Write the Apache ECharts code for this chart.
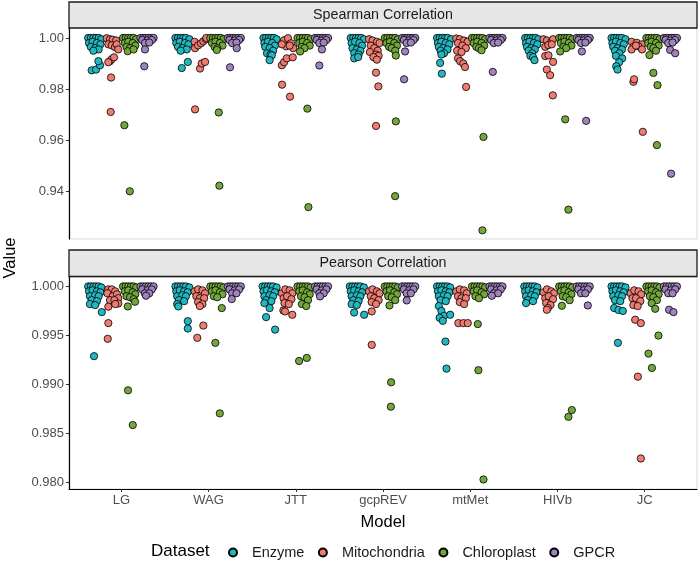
<!DOCTYPE html>
<html>
<head>
<meta charset="utf-8">
<script src="https://cdn.jsdelivr.net/npm/echarts@6/dist/echarts.min.js"></script>
<style>html,body{margin:0;padding:0;background:#fff}#c{width:698px;height:563px}</style>
</head>
<body>
<div id="c"></div>
<script>
const models = ['LG','WAG','JTT','gcpREV','mtMet','HIVb','JC'];
const datasets = ['Enzyme','Mitochondria','Chloroplast','GPCR'];
const spearmanTicks = [0.94,0.96,0.98,1.00];
const pearsonTicks = [0.980,0.985,0.990,0.995,1.000];

// Each model: list of [jitter within dataset group, value]
const spearmanEnzyme = [
 [[-0.08,1],[-0.05,1],[-0.02,1],[0.01,1],[0.04,1],[0.07,0.9995],[-0.07,0.998],[-0.03,0.9985],[0.02,0.998],[0.06,0.9975],[-0.05,0.9965],[0.0,0.996],[0.04,0.9955],[-0.02,0.995],[-0.04,0.9873],[0.01,0.9876],[0.056,0.9893],[0.037,0.9909]],
 [[-0.08,1],[-0.05,1],[-0.02,1],[0.01,1],[0.04,1],[0.08,0.9995],[-0.07,0.998],[-0.03,0.9985],[0.03,0.998],[0.07,0.9975],[-0.05,0.9965],[0.0,0.996],[0.05,0.9955],[-0.02,0.995],[-0.007,0.9882],[0.062,0.9906]],
 [[-0.07,1],[-0.04,1],[-0.01,1],[0.02,1],[0.05,1],[0.08,0.9995],[-0.06,0.998],[-0.02,0.9985],[0.03,0.998],[0.06,0.997],[-0.05,0.9965],[0.0,0.996],[0.04,0.995],[-0.03,0.994],[0.01,0.9935],[0.025,0.9932],[0.0,0.9913]],
 [[-0.07,1],[-0.04,1],[-0.01,1],[0.02,1],[0.05,1],[0.08,0.9995],[-0.06,0.998],[-0.02,0.9985],[0.03,0.998],[0.06,0.997],[-0.05,0.996],[0.0,0.9955],[0.04,0.995],[-0.03,0.994],[0.02,0.9935],[-0.03,0.992],[0.015,0.9925]],
 [[-0.08,1],[-0.05,1],[-0.02,1],[0.01,1],[0.04,1],[0.08,0.9995],[-0.07,0.998],[-0.03,0.9985],[0.02,0.998],[0.06,0.9975],[-0.06,0.9965],[-0.01,0.996],[0.04,0.9955],[-0.04,0.995],[0.0,0.994],[-0.03,0.9935],[-0.045,0.9902],[-0.025,0.986]],
 [[-0.07,1],[-0.04,1],[-0.01,1],[0.02,1],[0.05,1],[0.08,0.9995],[-0.06,0.998],[-0.02,0.9985],[0.03,0.998],[0.07,0.9975],[-0.05,0.9965],[0.0,0.996],[0.04,0.9955],[-0.03,0.995],[0.01,0.994],[-0.01,0.993],[0.02,0.9925],[0.037,0.9913]],
 [[-0.08,1],[-0.05,1],[-0.02,1],[0.01,1],[0.04,1],[0.08,0.9995],[-0.07,0.998],[-0.03,0.9985],[0.02,0.998],[0.06,0.9975],[-0.06,0.9965],[-0.01,0.996],[0.04,0.9955],[-0.04,0.995],[0.01,0.994],[-0.03,0.993],[0.042,0.992],[0.008,0.9905],[-0.026,0.9889],[-0.011,0.9876]]
];
const spearmanMito = [
 [[-0.068,0.9999],[-0.03,0.9995],[0.0,0.9993],[0.04,0.999],[-0.049,0.9975],[-0.01,0.9971],[0.028,0.9964],[0.047,0.9975],[0.065,0.9955],[-0.03,0.9909],[-0.01,0.9917],[-0.049,0.9905],[0.016,0.9924],[-0.018,0.9845],[-0.022,0.971]],
 [[-0.06,0.9985],[-0.055,0.996],[-0.02,0.9971],[0.014,0.9979],[0.04,0.9987],[0.07,0.9995],[0.075,1],[0.002,0.988],[0.022,0.99],[0.06,0.9906],[-0.055,0.972]],
 [[-0.034,0.9991],[0.011,0.9999],[0.046,0.9979],[-0.011,0.9967],[0.07,0.996],[-0.06,0.9975],[0.03,0.997],[-0.06,0.9893],[-0.034,0.9905],[-0.003,0.992],[0.065,0.9924],[-0.057,0.9817],[0.034,0.977]],
 [[-0.06,0.9995],[-0.02,0.999],[0.03,0.9985],[0.06,0.998],[-0.04,0.997],[0.0,0.996],[0.04,0.995],[-0.05,0.9945],[0.02,0.9935],[0.05,0.993],[-0.01,0.9925],[0.03,0.9915],[0.02,0.9864],[0.047,0.981],[0.02,0.9655]],
 [[-0.06,0.9998],[-0.02,0.9995],[0.03,0.999],[0.07,0.9985],[-0.04,0.998],[0.01,0.997],[0.05,0.996],[-0.05,0.995],[0.0,0.9945],[-0.04,0.992],[-0.016,0.9909],[0.02,0.99],[0.04,0.9886],[0.053,0.9808]],
 [[-0.06,0.9995],[-0.02,0.999],[0.03,0.9985],[0.05,0.9995],[-0.04,0.9965],[-0.005,0.9972],[0.035,0.9975],[-0.04,0.9929],[-0.003,0.9932],[0.05,0.9906],[-0.022,0.9876],[0.016,0.9854],[0.047,0.9775]],
 [[-0.05,0.9985],[0.01,0.9981],[0.07,0.9975],[-0.03,0.9965],[0.03,0.9967],[0.07,0.9955],[-0.05,0.9955],[0.0,0.997],[-0.029,0.9828],[-0.021,0.9838],[0.079,0.9632]]
];
const spearmanChloro = [
 [[-0.08,1],[-0.05,1],[-0.02,1],[0.01,1],[0.04,1],[0.07,0.9995],[-0.06,0.998],[-0.02,0.9985],[0.03,0.998],[0.06,0.997],[-0.04,0.9965],[0.0,0.996],[-0.026,0.9948],[0.04,0.9955],[-0.065,0.9658],[-0.003,0.9399]],
 [[-0.08,1],[-0.05,1],[-0.02,1],[0.01,1],[0.04,1],[0.07,0.9995],[-0.06,0.998],[-0.02,0.9985],[0.03,0.998],[0.06,0.997],[-0.03,0.9965],[0.0,0.996],[-0.005,0.9953],[0.017,0.9708],[0.024,0.9421]],
 [[-0.08,1],[-0.05,1],[-0.02,1],[0.01,1],[0.04,1],[0.07,0.9995],[-0.06,0.998],[-0.02,0.9985],[0.03,0.998],[0.06,0.997],[-0.03,0.9965],[0.0,0.996],[-0.05,0.9947],[0.033,0.9723],[0.045,0.9337]],
 [[-0.08,1],[-0.05,1],[-0.02,1],[0.01,1],[0.04,1],[0.07,0.9995],[-0.06,0.998],[-0.02,0.9985],[0.03,0.998],[0.06,0.997],[-0.03,0.9965],[0.0,0.996],[0.04,0.995],[0.047,0.9931],[0.047,0.9673],[0.039,0.938]],
 [[-0.08,1],[-0.05,1],[-0.02,1],[0.01,1],[0.04,1],[0.07,0.9995],[-0.06,0.998],[-0.02,0.9985],[0.03,0.998],[0.06,0.997],[-0.03,0.9965],[0.0,0.996],[0.03,0.9952],[0.052,0.9612],[0.04,0.9246]],
 [[-0.08,1],[-0.05,1],[-0.02,1],[0.01,1],[0.04,1],[0.07,0.9995],[-0.06,0.998],[-0.02,0.9985],[0.03,0.998],[0.06,0.997],[-0.03,0.9965],[0.0,0.996],[-0.069,0.9947],[-0.011,0.9681],[0.026,0.9327]],
 [[-0.08,1],[-0.05,1],[-0.02,1],[0.01,1],[0.04,1],[0.07,0.9995],[-0.06,0.998],[-0.02,0.9985],[0.03,0.998],[0.06,0.997],[-0.03,0.9965],[0.0,0.996],[0.03,0.995],[-0.045,0.9933],[0.0,0.9863],[0.047,0.9815],[0.04,0.958]]
];
const spearmanGPCR = [
 [[-0.08,1],[-0.05,1],[-0.02,1],[0.01,1],[0.04,1],[0.07,1],[-0.06,0.9992],[0.0,0.999],[0.05,0.9992],[-0.03,0.998],[0.02,0.9982],[-0.029,0.9955],[-0.037,0.9889]],
 [[-0.08,1],[-0.05,1],[-0.02,1],[0.01,1],[0.04,1],[0.07,1],[-0.06,0.9992],[0.0,0.999],[0.05,0.9992],[-0.03,0.998],[0.02,0.9982],[0.023,0.996],[-0.054,0.9885]],
 [[-0.08,1],[-0.05,1],[-0.02,1],[0.01,1],[0.04,1],[0.07,1],[-0.06,0.9992],[0.0,0.999],[0.05,0.9992],[-0.03,0.998],[0.02,0.9982],[0.0,0.9955],[-0.03,0.9892]],
 [[-0.08,1],[-0.05,1],[-0.02,1],[0.01,1],[0.04,1],[0.07,1],[-0.06,0.9992],[0.0,0.999],[0.05,0.9992],[-0.03,0.998],[0.02,0.9982],[-0.047,0.9947],[-0.058,0.9838]],
 [[-0.08,1],[-0.05,1],[-0.02,1],[0.01,1],[0.04,1],[0.07,1],[-0.06,0.9992],[0.0,0.999],[0.05,0.9992],[-0.03,0.998],[0.02,0.9982],[-0.041,0.9867]],
 [[-0.08,1],[-0.05,1],[-0.02,1],[0.01,1],[0.04,1],[0.07,1],[-0.06,0.9992],[0.0,0.999],[0.05,0.9992],[-0.03,0.998],[0.02,0.9982],[-0.02,0.9947],[0.029,0.9675]],
 [[-0.08,1],[-0.05,1],[-0.02,1],[0.01,1],[0.04,1],[0.07,1],[-0.06,0.9992],[0.0,0.999],[0.05,0.9992],[-0.03,0.998],[0.02,0.9982],[-0.008,0.9953],[0.05,0.994],[0.003,0.9468]]
];

const pearsonEnzyme = [
 [[-0.08,1],[-0.05,1],[-0.02,1],[0.01,1],[0.04,1],[0.07,0.9999],[-0.07,0.9995],[-0.03,0.9996],[0.02,0.9995],[0.06,0.9994],[-0.06,0.999],[0.0,0.9991],[0.04,0.999],[-0.04,0.9986],[0.02,0.9985],[-0.06,0.9982],[0.0,0.9981],[0.076,0.99738],[-0.013,0.99289]],
 [[-0.08,1],[-0.05,1],[-0.02,1],[0.01,1],[0.04,1],[0.08,0.9999],[-0.07,0.9995],[-0.03,0.9996],[0.02,0.9995],[0.06,0.9994],[-0.06,0.999],[0.0,0.9991],[0.04,0.999],[-0.04,0.9986],[0.02,0.9985],[-0.06,0.9982],[-0.046,0.99796],[0.062,0.99646],[0.062,0.99571]],
 [[-0.08,1],[-0.05,1],[-0.02,1],[0.01,1],[0.04,1],[0.08,0.9999],[-0.07,0.9995],[-0.03,0.9996],[0.02,0.9995],[0.06,0.9994],[-0.06,0.999],[0.0,0.9991],[0.04,0.999],[-0.04,0.9986],[0.02,0.9985],[-0.06,0.9983],[0.0,0.99779],[-0.04,0.99687],[0.063,0.9956]],
 [[-0.08,1],[-0.05,1],[-0.02,1],[0.01,1],[0.04,1],[0.08,0.9999],[-0.07,0.9995],[-0.03,0.9996],[0.02,0.9995],[0.06,0.9994],[-0.06,0.999],[0.0,0.9991],[0.04,0.999],[-0.04,0.9986],[0.02,0.9985],[-0.06,0.9982],[0.0,0.9981],[-0.031,0.99734],[0.084,0.99711]],
 [[-0.08,1],[-0.05,1],[-0.02,1],[0.01,1],[0.04,1],[0.07,0.9999],[-0.07,0.9995],[-0.03,0.9996],[0.02,0.9995],[0.06,0.9994],[-0.06,0.999],[0.0,0.9991],[0.04,0.999],[-0.04,0.9986],[0.02,0.9985],[-0.06,0.998],[-0.03,0.9975],[0.0,0.997],[-0.05,0.9968],[-0.014,0.99649],[0.07,0.99711],[0.016,0.99438],[0.028,0.99162]],
 [[-0.08,1],[-0.05,1],[-0.02,1],[0.01,1],[0.04,1],[0.07,0.9999],[-0.07,0.9995],[-0.03,0.9996],[0.02,0.9995],[0.06,0.9994],[-0.06,0.999],[0.0,0.9991],[0.04,0.999],[-0.04,0.9986],[0.02,0.9985],[-0.06,0.9983]],
 [[-0.08,1],[-0.05,1],[-0.02,1],[0.01,1],[0.04,1],[0.08,0.9999],[-0.07,0.9995],[-0.03,0.9996],[0.02,0.9995],[0.06,0.9994],[-0.06,0.999],[0.0,0.9991],[0.04,0.999],[-0.04,0.9986],[0.02,0.9985],[-0.05,0.9978],[0.0,0.9976],[0.05,0.9975],[-0.007,0.99425]]
];
const pearsonMito = [
 [[-0.05,0.9997],[-0.01,0.9997],[0.03,0.9995],[-0.06,0.9993],[0.0,0.999],[0.05,0.9992],[0.065,0.9988],[-0.03,0.9986],[0.02,0.9986],[-0.049,0.99793],[0.065,0.99826],[0.03,0.9982],[-0.049,0.99626],[-0.056,0.99466]],
 [[-0.06,0.9995],[-0.02,0.9997],[0.03,0.9996],[0.06,0.9993],[-0.04,0.999],[0.0,0.9988],[0.05,0.9988],[-0.02,0.9984],[0.03,0.9982],[0.0,0.998],[0.04,0.99601],[-0.029,0.99476]],
 [[-0.06,0.9993],[-0.02,0.9997],[0.03,0.9996],[0.06,0.9993],[-0.04,0.9988],[0.0,0.999],[0.05,0.9987],[-0.03,0.9983],[0.02,0.9982],[-0.042,0.99755],[-0.023,0.99745],[0.06,0.99711]],
 [[-0.06,0.9995],[-0.02,0.9997],[0.03,0.9995],[0.06,0.9993],[-0.04,0.999],[0.0,0.9988],[0.05,0.9986],[-0.03,0.9984],[0.02,0.9982],[-0.029,0.99745],[-0.029,0.99404]],
 [[-0.06,0.9995],[-0.02,0.9997],[0.03,0.9996],[0.06,0.9993],[-0.04,0.999],[0.0,0.9988],[0.05,0.9988],[-0.02,0.9984],[0.03,0.9982],[-0.036,0.99626],[0.022,0.99626],[0.072,0.99626]],
 [[-0.06,0.9994],[-0.02,0.9997],[0.03,0.9995],[0.06,0.9993],[-0.04,0.9988],[0.0,0.999],[0.05,0.9987],[-0.03,0.9983],[0.02,0.9981],[-0.01,0.9978],[-0.022,0.99762]],
 [[-0.06,0.9993],[-0.02,0.9996],[0.03,0.9995],[0.06,0.9992],[-0.04,0.9988],[0.0,0.9988],[0.05,0.9985],[-0.03,0.9981],[0.02,0.998],[-0.009,0.9966],[0.056,0.99626],[0.022,0.9908],[0.056,0.98246]]
];
const pearsonChloro = [
 [[-0.08,1],[-0.05,1],[-0.02,1],[0.01,1],[0.04,1],[0.07,0.9999],[-0.06,0.9995],[-0.02,0.9996],[0.03,0.9994],[0.06,0.9992],[-0.04,0.999],[0.0,0.9989],[0.04,0.9987],[-0.026,0.99796],[0.057,0.99844],[-0.023,0.98941],[0.031,0.98587]],
 [[-0.08,1],[-0.05,1],[-0.02,1],[0.01,1],[0.04,1],[0.07,0.9999],[-0.06,0.9995],[-0.02,0.9996],[0.03,0.9994],[0.06,0.9992],[-0.04,0.999],[0.0,0.9989],[0.052,0.99779],[-0.022,0.99425],[0.029,0.98706]],
 [[-0.08,1],[-0.05,1],[-0.02,1],[0.01,1],[0.04,1],[0.07,0.9999],[-0.06,0.9995],[-0.02,0.9996],[0.03,0.9994],[0.06,0.9992],[-0.04,0.999],[0.0,0.9989],[0.04,0.9986],[-0.03,0.9982],[0.02,0.998],[-0.062,0.9924],[0.026,0.99271]],
 [[-0.08,1],[-0.05,1],[-0.02,1],[0.01,1],[0.04,1],[0.07,0.9999],[-0.06,0.9995],[-0.02,0.9996],[0.03,0.9994],[0.06,0.9992],[-0.04,0.999],[0.0,0.9989],[0.04,0.9986],[-0.026,0.99806],[-0.007,0.99023],[-0.01,0.98774]],
 [[-0.08,1],[-0.05,1],[-0.02,1],[0.01,1],[0.04,1],[0.07,0.9999],[-0.06,0.9995],[-0.02,0.9996],[0.03,0.9994],[0.06,0.9992],[-0.04,0.999],[0.0,0.9988],[-0.013,0.99616],[-0.006,0.99146],[0.052,0.98032]],
 [[-0.08,1],[-0.05,1],[-0.02,1],[0.01,1],[0.04,1],[0.07,0.9999],[-0.06,0.9995],[-0.02,0.9996],[0.03,0.9994],[0.06,0.9992],[-0.04,0.999],[0.0,0.9989],[0.04,0.9986],[-0.049,0.99803],[0.026,0.98671],[0.065,0.9874]],
 [[-0.08,1],[-0.05,1],[-0.02,1],[0.01,1],[0.04,1],[0.07,0.9999],[-0.06,0.9995],[-0.02,0.9996],[0.03,0.9994],[0.06,0.9992],[-0.04,0.999],[0.0,0.9989],[0.04,0.9986],[-0.02,0.9983],[0.021,0.99772],[0.058,0.99499],[-0.056,0.99315],[-0.017,0.99169]]
];
const pearsonGPCR = [
 [[-0.08,1],[-0.05,1],[-0.02,1],[0.01,1],[0.04,1],[0.07,1],[-0.06,0.9997],[0.0,0.9996],[0.05,0.9997],[-0.03,0.9993],[0.02,0.9993],[-0.017,0.99905]],
 [[-0.08,1],[-0.05,1],[-0.02,1],[0.01,1],[0.04,1],[0.07,1],[-0.06,0.9997],[0.0,0.9996],[0.05,0.9997],[-0.03,0.9993],[0.02,0.9993],[-0.034,0.99871]],
 [[-0.08,1],[-0.05,1],[-0.02,1],[0.01,1],[0.04,1],[0.07,1],[-0.06,0.9997],[0.0,0.9996],[0.05,0.9997],[-0.03,0.9993],[0.02,0.9993],[-0.022,0.99898]],
 [[-0.08,1],[-0.05,1],[-0.02,1],[0.01,1],[0.04,1],[0.07,1],[-0.06,0.9997],[0.0,0.9996],[0.05,0.9997],[-0.03,0.9993],[0.02,0.9993],[-0.028,0.99857]],
 [[-0.08,1],[-0.05,1],[-0.02,1],[0.01,1],[0.04,1],[0.07,1],[-0.06,0.9997],[0.0,0.9996],[0.05,0.9997],[-0.03,0.9993],[0.02,0.9993],[-0.053,0.99905]],
 [[-0.08,1],[-0.05,1],[-0.02,1],[0.01,1],[0.04,1],[0.07,1],[-0.06,0.9997],[0.0,0.9996],[0.05,0.9997],[-0.03,0.9993],[0.02,0.9993],[0.048,0.99806]],
 [[-0.08,1],[-0.05,1],[-0.02,1],[0.01,1],[0.04,1],[0.07,1],[-0.06,0.9997],[0.0,0.9996],[0.05,0.9997],[-0.03,0.9993],[0.02,0.9993],[-0.02,0.99762],[0.03,0.99738]]
];

const colors = ['#22B8C2','#F07B70','#72A83A','#9F82BE'];
const dodge = [-0.3,-0.1,0.1,0.3];
const FONT = "'Liberation Sans', Arial, sans-serif";

function toPoints(groups, d) {
  const out = [];
  groups.forEach((pts, m) => pts.forEach(p => out.push([m + 1 + dodge[d] + p[0], p[1]])));
  return out;
}

const panels = [
  [spearmanEnzyme, spearmanMito, spearmanChloro, spearmanGPCR],
  [pearsonEnzyme, pearsonMito, pearsonChloro, pearsonGPCR]
];

const series = [];
panels.forEach((sets, pi) => {
  sets.forEach((groups, d) => {
    series.push({
      type: 'scatter', name: datasets[d], xAxisIndex: pi, yAxisIndex: pi,
      data: toPoints(groups, d), symbol: 'circle', symbolSize: 7.3,
      itemStyle: { color: colors[d], borderColor: '#000', borderWidth: 0.8, opacity: 1 },
      emphasis: { disabled: true }, animation: false
    });
  });
});

const xTickVals = models.map((m, i) => i + 1);
const chart = echarts.init(document.getElementById('c'), null, { renderer: 'canvas' });
chart.setOption({
  animation: false,
  textStyle: { fontFamily: FONT },
  grid: [
    { left: 69, top: 28, width: 628, height: 211, show: true, borderColor: '#d9d9d9', borderWidth: 1, backgroundColor: 'transparent' },
    { left: 69, top: 277, width: 628, height: 212, show: true, borderColor: '#d9d9d9', borderWidth: 1, backgroundColor: 'transparent' }
  ],
  xAxis: [
    { type: 'value', gridIndex: 0, min: 0.4, max: 7.6, axisLine: { show: false }, axisTick: { show: false }, axisLabel: { show: false }, splitLine: { show: false } },
    { type: 'value', gridIndex: 1, min: 0.4, max: 7.6, splitLine: { show: false },
      name: 'Model', nameLocation: 'middle', nameGap: 25, nameTextStyle: { fontSize: 16.5, color: '#000', fontFamily: FONT },
      axisLine: { show: true, onZero: false, lineStyle: { color: '#000', width: 1.2 } },
      axisTick: { show: true, length: 3, customValues: xTickVals, lineStyle: { color: '#333' } },
      axisLabel: { show: true, customValues: xTickVals, fontSize: 13, color: '#4d4d4d', margin: 5, fontFamily: FONT,
        formatter: v => models[Math.round(v) - 1] || '' } }
  ],
  yAxis: [
    { type: 'value', gridIndex: 0, min: 0.9212, max: 1.0039, splitLine: { show: false },
      axisLine: { show: true, onZero: false, lineStyle: { color: '#000', width: 1.2 } },
      axisTick: { show: true, length: 3, customValues: spearmanTicks, lineStyle: { color: '#333' } },
      axisLabel: { show: true, customValues: spearmanTicks, fontSize: 13, color: '#4d4d4d', margin: 5, fontFamily: FONT,
        formatter: v => v.toFixed(2) } },
    { type: 'value', gridIndex: 1, min: 0.97935, max: 1.00096, splitLine: { show: false },
      axisLine: { show: true, onZero: false, lineStyle: { color: '#000', width: 1.2 } },
      axisTick: { show: true, length: 3, customValues: pearsonTicks, lineStyle: { color: '#333' } },
      axisLabel: { show: true, customValues: pearsonTicks, fontSize: 13, color: '#4d4d4d', margin: 5, fontFamily: FONT,
        formatter: v => v.toFixed(3) } }
  ],
  legend: {
    data: datasets, left: 223, top: 540, orient: 'horizontal',
    icon: 'circle', itemWidth: 8, itemHeight: 8, itemGap: 13.5,
    textStyle: { fontSize: 14.5, color: '#1a1a1a', fontFamily: FONT, padding: [0, 0, 0, 10] },
    selectedMode: false
  },
  graphic: [
    { type: 'rect', shape: { x: 69, y: 2, width: 628, height: 26 }, style: { fill: '#e6e6e6', stroke: '#1a1a1a', lineWidth: 1.3 }, z: 10 },
    { type: 'text', x: 383, y: 15, style: { text: 'Spearman Correlation', fontSize: 14.3, fill: '#1a1a1a', align: 'center', verticalAlign: 'middle', fontFamily: FONT }, z: 11 },
    { type: 'rect', shape: { x: 69, y: 250, width: 628, height: 26.5 }, style: { fill: '#e6e6e6', stroke: '#1a1a1a', lineWidth: 1.3 }, z: 10 },
    { type: 'text', x: 383, y: 263.5, style: { text: 'Pearson Correlation', fontSize: 14.3, fill: '#1a1a1a', align: 'center', verticalAlign: 'middle', fontFamily: FONT }, z: 11 },
    { type: 'text', x: 10, y: 258, rotation: Math.PI / 2, style: { text: 'Value', fontSize: 16.5, fill: '#000', align: 'center', verticalAlign: 'middle', fontFamily: FONT }, z: 11 },
    { type: 'text', x: 151, y: 551, style: { text: 'Dataset', fontSize: 17, fill: '#000', align: 'left', verticalAlign: 'middle', fontFamily: FONT }, z: 11 }
  ],
  series: series
});
</script>
</body>
</html>
